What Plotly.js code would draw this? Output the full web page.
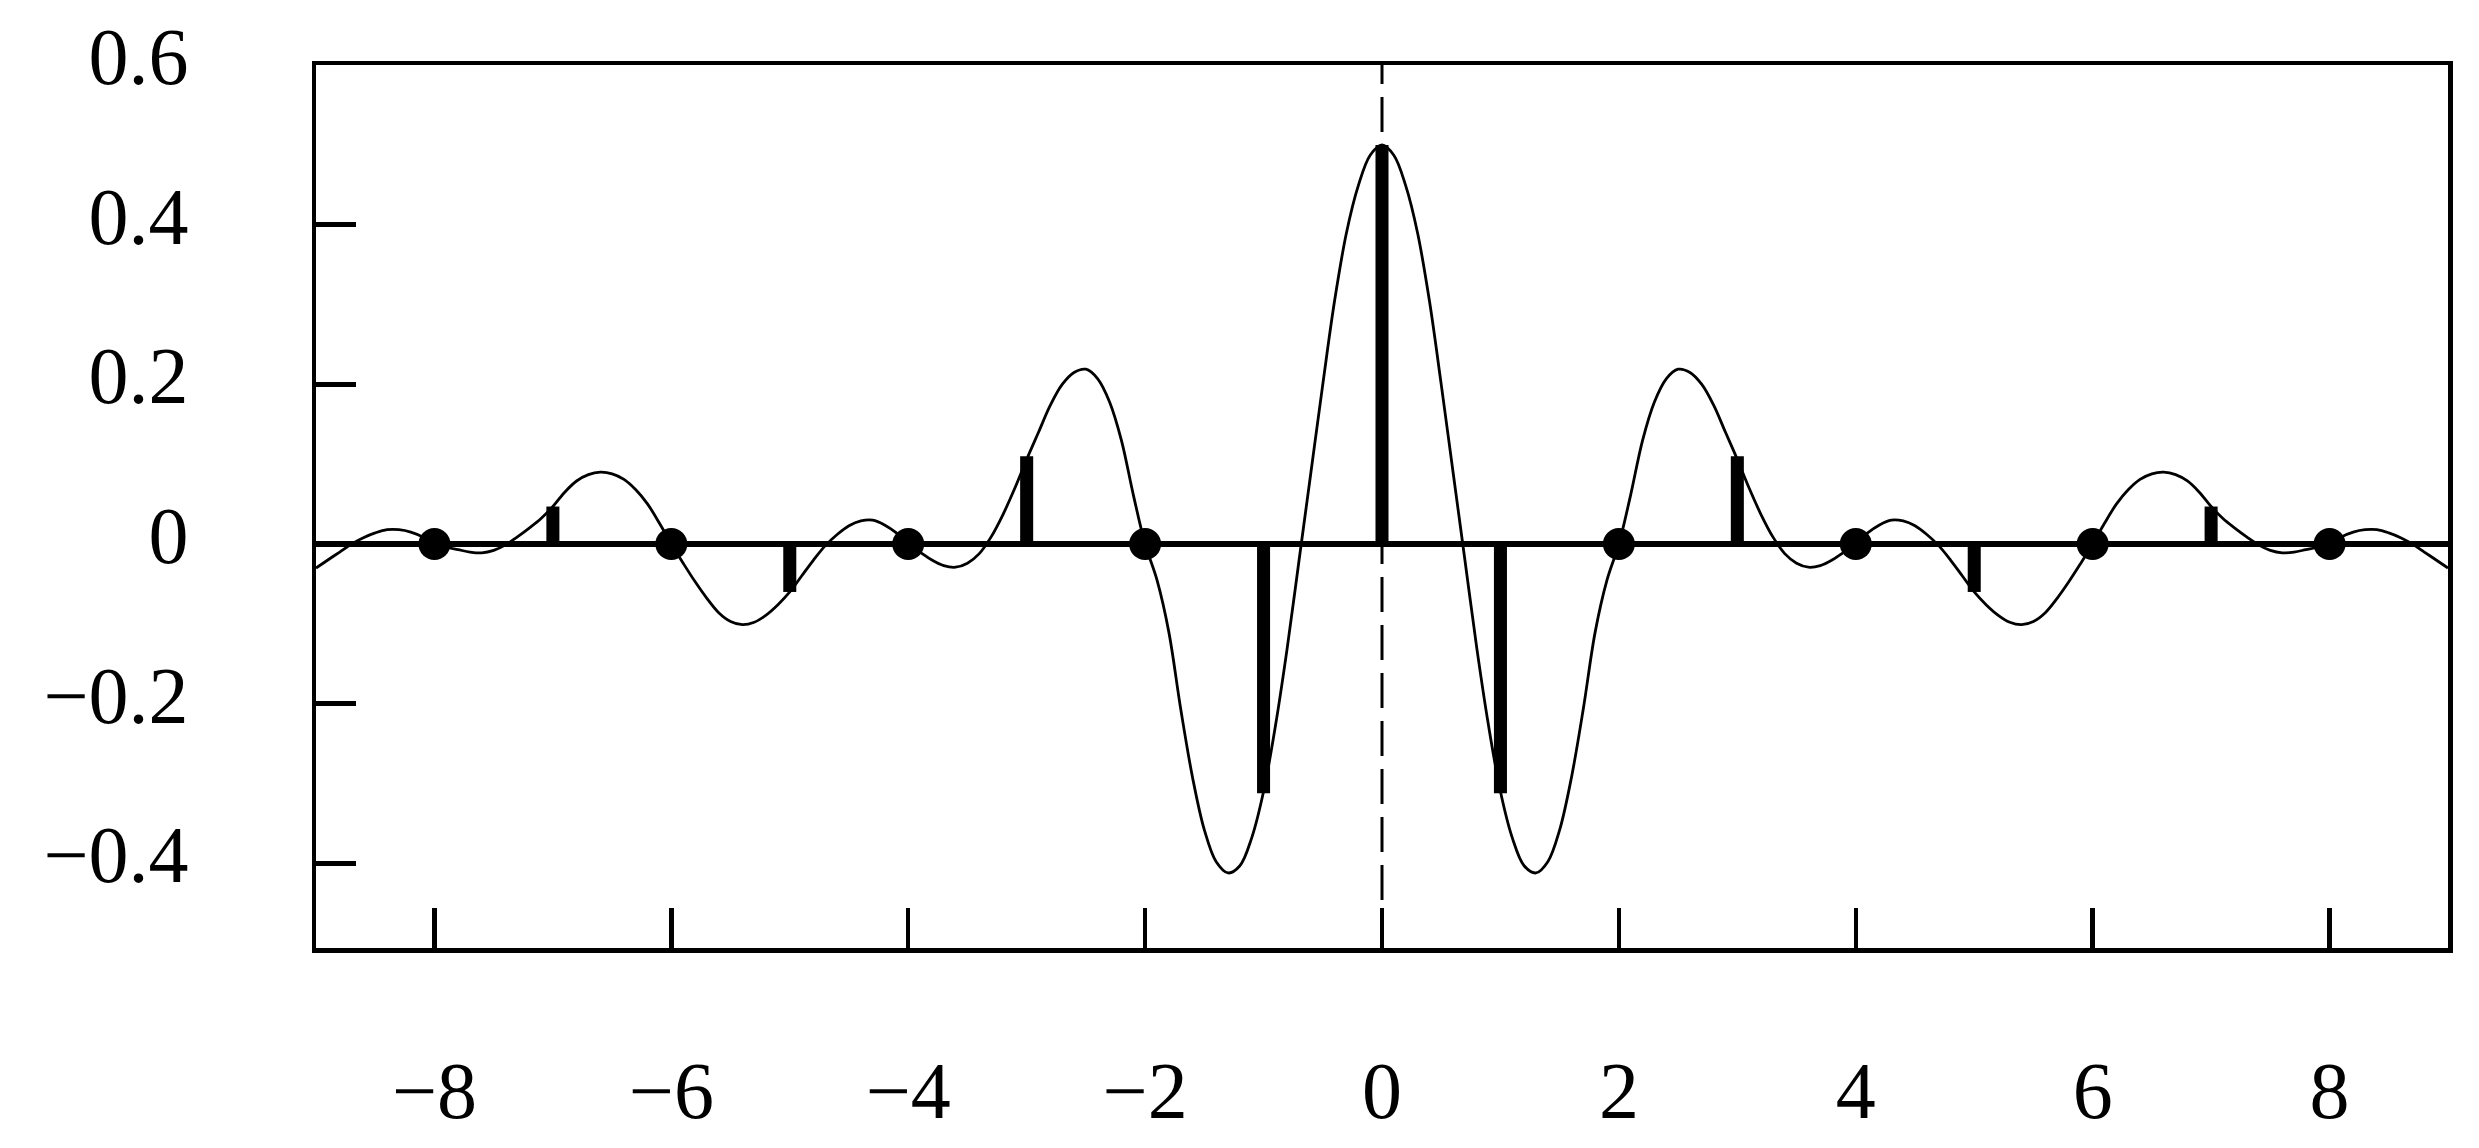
<!DOCTYPE html>
<html>
<head>
<meta charset="utf-8">
<script src="https://cdn.plot.ly/plotly-3.0.1.min.js"></script>
<style>
  html, body { margin: 0; padding: 0; background: #fff; }
  #chart { width: 2479px; height: 1148px; }
</style>
</head>
<body>
<div id="chart"></div>
<script>
// curve, every 0.1 from -9 to 9
var curveX = [
  -9.0,-8.9,-8.8,-8.7,-8.6,-8.5,-8.4,-8.3,-8.2,-8.1,
  -8.0,-7.9,-7.8,-7.7,-7.6,-7.5,-7.4,-7.3,-7.2,-7.1,
  -7.0,-6.9,-6.8,-6.7,-6.6,-6.5,-6.4,-6.3,-6.2,-6.1,
  -6.0,-5.9,-5.8,-5.7,-5.6,-5.5,-5.4,-5.3,-5.2,-5.1,
  -5.0,-4.9,-4.8,-4.7,-4.6,-4.5,-4.4,-4.3,-4.2,-4.1,
  -4.0,-3.9,-3.8,-3.7,-3.6,-3.5,-3.4,-3.3,-3.2,-3.1,
  -3.0,-2.9,-2.8,-2.7,-2.6,-2.5,-2.4,-2.3,-2.2,-2.1,
  -2.0,-1.9,-1.8,-1.7,-1.6,-1.5,-1.4,-1.3,-1.2,-1.1,
  -1.0,-0.9,-0.8,-0.7,-0.6,-0.5,-0.4,-0.3,-0.2,-0.1,
  0.0,0.1,0.2,0.3,0.4,0.5,0.6,0.7,0.8,0.9,
  1.0,1.1,1.2,1.3,1.4,1.5,1.6,1.7,1.8,1.9,
  2.0,2.1,2.2,2.3,2.4,2.5,2.6,2.7,2.8,2.9,
  3.0,3.1,3.2,3.3,3.4,3.5,3.6,3.7,3.8,3.9,
  4.0,4.1,4.2,4.3,4.4,4.5,4.6,4.7,4.8,4.9,
  5.0,5.1,5.2,5.3,5.4,5.5,5.6,5.7,5.8,5.9,
  6.0,6.1,6.2,6.3,6.4,6.5,6.6,6.7,6.8,6.9,
  7.0,7.1,7.2,7.3,7.4,7.5,7.6,7.7,7.8,7.9,
  8.0,8.1,8.2,8.3,8.4,8.5,8.6,8.7,8.8,8.9,
  9.0
];
var curveY = [
  -0.03,-0.02,-0.01,0,0.008,0.014,0.018,0.018,0.015,0.009,
  0,-0.004,-0.007,-0.01,-0.011,-0.008,-0.001,0.009,0.02,0.032,
  0.047,0.065,0.079,0.087,0.09,0.088,0.081,0.068,0.05,0.026,
  0,-0.024,-0.047,-0.068,-0.086,-0.097,-0.101,-0.098,-0.089,-0.076,
  -0.06,-0.04,-0.02,-0.002,0.012,0.023,0.029,0.03,0.024,0.014,
  0,-0.01,-0.02,-0.027,-0.029,-0.024,-0.012,0.009,0.037,0.07,
  0.106,0.14,0.174,0.2,0.215,0.219,0.207,0.178,0.13,0.062,
  0,-0.045,-0.11,-0.206,-0.292,-0.358,-0.398,-0.412,-0.403,-0.368,
  -0.31,-0.228,-0.13,-0.02,0.09,0.2,0.305,0.39,0.449,0.487,
  0.5,0.487,0.449,0.39,0.305,0.2,0.09,-0.02,-0.13,-0.228,
  -0.31,-0.368,-0.403,-0.412,-0.398,-0.358,-0.292,-0.206,-0.11,-0.045,
  0,0.062,0.13,0.178,0.207,0.219,0.215,0.2,0.174,0.14,
  0.106,0.07,0.037,0.009,-0.012,-0.024,-0.029,-0.027,-0.02,-0.01,
  0,0.014,0.024,0.03,0.029,0.023,0.012,-0.002,-0.02,-0.04,
  -0.06,-0.076,-0.089,-0.098,-0.101,-0.097,-0.086,-0.068,-0.047,-0.024,
  0,0.026,0.05,0.068,0.081,0.088,0.09,0.087,0.079,0.065,
  0.047,0.032,0.02,0.009,-0.001,-0.008,-0.011,-0.01,-0.007,-0.004,
  0,0.009,0.015,0.018,0.018,0.014,0.008,0,-0.01,-0.02,
  -0.03
];

// stems at the odd samples and at zero
var stemX = [-7, -5, -3, -1, 0, 1, 3, 5, 7];
var stemY = [0.047, -0.06, 0.11, -0.312, 0.5, -0.312, 0.11, -0.06, 0.047];

// zero samples marked with dots
var dotX = [-8, -6, -4, -2, 2, 4, 6, 8];
var dotY = [0, 0, 0, 0, 0, 0, 0, 0];

var xTicks = [-8, -6, -4, -2, 0, 2, 4, 6, 8];
var yTicks = [-0.4, -0.2, 0, 0.2, 0.4, 0.6];

var curve = {
  x: curveX, y: curveY,
  type: "scatter", mode: "lines",
  line: {color: "#000", width: 2.8, shape: "spline"},
  hoverinfo: "skip"
};
var stems = {
  x: stemX, y: stemY,
  type: "bar", width: 0.11,
  marker: {color: "#000", line: {width: 0}}
};
var dots = {
  x: dotX, y: dotY,
  type: "scatter", mode: "markers",
  marker: {color: "#000", size: 32}
};

var font = {family: "Liberation Serif, Times New Roman, serif", size: 80, color: "#000"};

var layout = {
  width: 2479, height: 1148,
  margin: {l: 316, r: 31, t: 65, b: 200},
  paper_bgcolor: "#fff", plot_bgcolor: "#fff",
  showlegend: false,
  font: font,
  xaxis: {
    range: [-9, 9],
    tickvals: xTicks,
    ticks: "inside", ticklen: 40, tickwidth: 4.5, tickcolor: "#000",
    showline: true, linewidth: 4.5, linecolor: "#000", mirror: true,
    showgrid: false, zeroline: false,
    ticklabelstandoff: 69,
    automargin: false,
    tickfont: font
  },
  yaxis: {
    range: [-0.506, 0.6001],
    tickvals: yTicks,
    ticks: "inside", ticklen: 40, tickwidth: 4.5, tickcolor: "#000",
    showline: true, linewidth: 4.5, linecolor: "#000", mirror: true,
    showgrid: false,
    zeroline: true, zerolinewidth: 6, zerolinecolor: "#000",
    ticklabelstandoff: 107,
    ticklabelshift: -9,
    automargin: false,
    tickfont: font
  },
  shapes: [{
    type: "line", xref: "x", yref: "paper",
    x0: 0, x1: 0, y0: 0, y1: 1,
    line: {color: "#000", width: 3, dash: "35px,13px"},
    layer: "below"
  }]
};

Plotly.newPlot("chart", [curve, stems, dots], layout, {staticPlot: true});
</script>
</body>
</html>
